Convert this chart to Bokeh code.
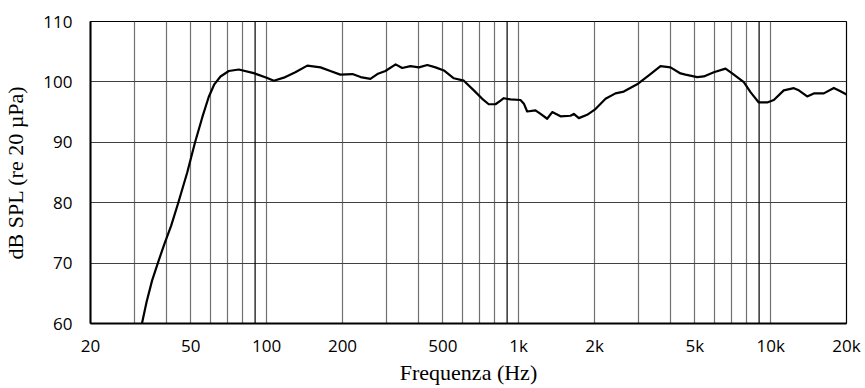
from bokeh.plotting import figure
from bokeh.models import FixedTicker, Range1d, Span
from bokeh.embed import file_html
from bokeh.resources import INLINE

# Frequency response (Hz, dB SPL)
freq = [32, 33.4, 35.1, 37, 39.3, 41.8, 44.6, 48.4, 52, 55.6, 58.9, 62, 65.6, 70.8,
        77.5, 88.9, 100, 106.8, 117, 130, 145, 163.6, 179, 196, 219, 236, 258, 275,
        296, 325, 345, 372, 402, 434, 468, 505, 553, 606, 664, 717, 761, 809, 848,
        873, 928, 1017, 1049, 1081, 1166, 1222, 1298, 1359, 1466, 1606, 1656, 1733,
        1870, 2018, 2212, 2422, 2614, 2952, 3286, 3656, 4006, 4388, 4594, 5113, 5430,
        5950, 6622, 7036, 7826, 8318, 8974, 9692, 10294, 11274, 12360, 12934, 13966,
        14832, 16256, 17812, 18930, 20000]
spl = [60, 63.6, 67.1, 70.0, 73.2, 76.2, 80.0, 85.0, 90.0, 94.2, 97.5, 99.6, 100.9,
       101.8, 102.05, 101.45, 100.7, 100.2, 100.7, 101.6, 102.7, 102.4, 101.8, 101.2,
       101.3, 100.8, 100.5, 101.3, 101.8, 102.9, 102.3, 102.6, 102.4, 102.8, 102.4,
       101.9, 100.6, 100.2, 98.6, 97.2, 96.3, 96.3, 96.9, 97.3, 97.1, 97.0, 96.4,
       95.1, 95.3, 94.7, 93.9, 95.0, 94.3, 94.4, 94.7, 94.0, 94.55, 95.5, 97.2, 98.1,
       98.4, 99.6, 101.1, 102.6, 102.4, 101.4, 101.2, 100.8, 100.9, 101.6, 102.2,
       101.4, 99.95, 98.3, 96.6, 96.6, 97.0, 98.6, 98.96, 98.6, 97.6, 98.1, 98.1,
       99.0, 98.46, 97.9]

x_ticks = [20, 50, 100, 200, 500, 1000, 2000, 5000, 10000, 20000]
x_tick_labels = ["20", "50", "100", "200", "500", "1k", "2k", "5k", "10k", "20k"]
y_ticks = [60, 70, 80, 90, 100, 110]
grid_freqs = [30, 40, 50, 60, 70, 80, 100, 200, 300, 400, 500, 600, 700, 800,
              1000, 2000, 3000, 4000, 5000, 6000, 7000, 8000, 10000]
dark_grid_freqs = [90, 900, 9000]

p = figure(width=865, height=388, x_axis_type="log", output_backend="svg",
           toolbar_location=None, min_border_left=90, min_border_right=19,
           min_border_top=21, min_border_bottom=65,
           x_range=Range1d(20, 20000), y_range=Range1d(60, 110))
p.background_fill_color = "white"
p.border_fill_color = "white"
p.outline_line_color = "black"
p.outline_line_width = 1.2

p.xgrid.ticker = FixedTicker(ticks=grid_freqs)
p.xgrid.grid_line_color = "#707070"
p.xgrid.grid_line_width = 1.2
p.ygrid.ticker = FixedTicker(ticks=y_ticks)
p.ygrid.grid_line_color = "#404040"
p.ygrid.grid_line_width = 1.2

for f in dark_grid_freqs:
    p.add_layout(Span(location=f, dimension="height", line_color="black",
                      line_width=1.2, level="underlay"))

p.line(freq, spl, line_color="black", line_width=2.2, line_join="round")

p.xaxis.ticker = FixedTicker(ticks=x_ticks)
p.xaxis.major_label_overrides = {t: l for t, l in zip(x_ticks, x_tick_labels)}
p.yaxis.ticker = FixedTicker(ticks=y_ticks)

for ax in (p.xaxis, p.yaxis):
    ax.major_tick_line_color = None
    ax.minor_tick_line_color = None
    ax.axis_line_color = "black"
    ax.axis_line_width = 2
    ax.major_label_text_font = "Open Sans"
    ax.major_label_text_font_size = "17px"
    ax.major_label_text_color = "black"
    ax.axis_label_text_font = "Liberation Serif"
    ax.axis_label_text_font_size = "22px"
    ax.axis_label_text_font_style = "normal"
    ax.axis_label_text_color = "black"

p.xaxis.axis_label = "Frequenza (Hz)"
p.yaxis.axis_label = "dB SPL (re 20 µPa)"
p.xaxis.major_label_standoff = 4
p.yaxis.major_label_standoff = 12
p.xaxis.axis_label_standoff = 0
p.yaxis.axis_label_standoff = 12

open("out.html", "w").write(file_html(p, INLINE))
